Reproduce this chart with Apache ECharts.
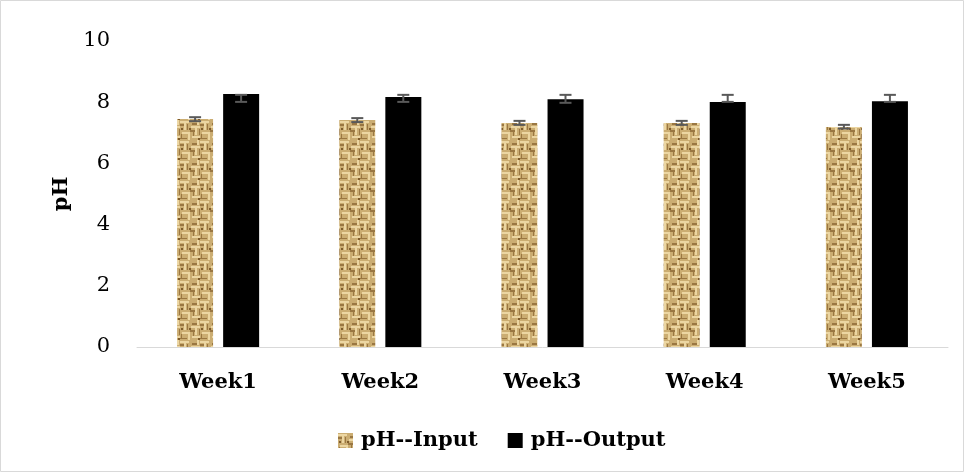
<!DOCTYPE html>
<html><head><meta charset="utf-8">
<script src="https://cdn.jsdelivr.net/npm/echarts@6/dist/echarts.min.js"></script>
<style>html,body{margin:0;padding:0;background:#fff}#c{width:965px;height:473px}</style>
</head><body><div id="c"></div>
<script>
var categories = ['Week1','Week2','Week3','Week4','Week5'];
var inputValues = [7.45, 7.42, 7.32, 7.32, 7.19];
var outputValues = [8.27, 8.17, 8.10, 8.01, 8.03];
var inputErrLow = [7.38, 7.35, 7.26, 7.26, 7.14];
var inputErrHigh = [7.51, 7.48, 7.39, 7.39, 7.26];
var outputErrLow = [8.01, 8.01, 7.98, 8.01, 8.01];
var outputErrHigh = [8.24, 8.24, 8.24, 8.24, 8.24];
var yTicks = [0, 2, 4, 6, 8, 10];

function burlap() {
  var c = document.createElement('canvas');
  c.width = 20; c.height = 20;
  var g = c.getContext('2d');
  g.fillStyle = '#cbad72'; g.fillRect(0,0,20,20);
  g.fillStyle = '#ecd6a2';
  g.fillRect(0,1,9,2); g.fillRect(11,6,9,2); g.fillRect(2,12,8,2); g.fillRect(12,16,8,2);
  g.fillRect(4,3,2,7); g.fillRect(15,8,2,7); g.fillRect(8,14,2,6); g.fillRect(17,0,2,5);
  g.fillStyle = '#9a7742';
  g.fillRect(0,4,4,2); g.fillRect(10,10,5,2); g.fillRect(0,18,7,1); g.fillRect(12,3,5,2);
  g.fillRect(7,4,1,6); g.fillRect(13,12,1,4); g.fillRect(1,14,1,4); g.fillRect(19,9,1,6);
  g.fillStyle = '#7f5c2c';
  g.fillRect(9,8,2,2); g.fillRect(18,18,2,2); g.fillRect(1,8,2,2);
  return c;
}
var pat = {image: burlap(), repeat: 'repeat'};

function errSeries(low, high, offset) {
  return {
    type: 'custom', z: 10,
    data: categories.map(function(c, i){ return [i, low[i], high[i]]; }),
    renderItem: function(params, api) {
      var i = api.value(0);
      var p1 = api.coord([i, api.value(1)]);
      var p2 = api.coord([i, api.value(2)]);
      var x = p1[0] + offset, hw = 6;
      var st = {stroke: '#595959', lineWidth: 2};
      return {type: 'group', children: [
        {type: 'line', shape: {x1: x, y1: p1[1], x2: x, y2: p2[1]}, style: st},
        {type: 'line', shape: {x1: x-hw, y1: p1[1], x2: x+hw, y2: p1[1]}, style: st},
        {type: 'line', shape: {x1: x-hw, y1: p2[1], x2: x+hw, y2: p2[1]}, style: st}
      ]};
    }
  };
}

var font = '"DejaVu Serif", "Liberation Serif", serif';
var chart = echarts.init(document.getElementById('c'));
chart.setOption({
  animation: false,
  backgroundColor: '#fff',
  graphic: [{type: 'rect', shape: {x: 0.5, y: 0.5, width: 963, height: 471}, style: {fill: 'none', stroke: '#d9d9d9', lineWidth: 1}}],
  grid: {left: 137, right: 17, top: 41, bottom: 126},
  legend: {
    bottom: 17, left: 333, itemWidth: 15, itemHeight: 15, itemGap: 30,
    data: [{name: 'pH--Input', icon: 'rect'}, {name: 'pH--Output', icon: 'rect'}],
    textStyle: {fontFamily: font, fontWeight: 'bold', fontSize: 21, color: '#000', padding: [0, 0, 0, 3]}
  },
  xAxis: {
    type: 'category', data: categories,
    axisLine: {lineStyle: {color: '#d9d9d9', width: 1}},
    axisTick: {show: false},
    axisLabel: {fontFamily: font, fontWeight: 'bold', fontSize: 21, color: '#000', margin: 25}
  },
  yAxis: {
    type: 'value', min: yTicks[0], max: yTicks[yTicks.length-1], interval: 2,
    name: 'pH', nameLocation: 'middle', nameGap: 62, nameRotate: 90,
    nameTextStyle: {fontFamily: font, fontWeight: 'bold', fontSize: 21, color: '#000'},
    axisLine: {show: false}, axisTick: {show: false}, splitLine: {show: false},
    axisLabel: {fontFamily: font, fontSize: 21, color: '#000', margin: 27}
  },
  series: [
    {name: 'pH--Input', type: 'bar', data: inputValues, barWidth: 36, barGap: '28%',
     itemStyle: {color: pat}},
    {name: 'pH--Output', type: 'bar', data: outputValues, barWidth: 36, barGap: '28%',
     itemStyle: {color: '#000'}},
    errSeries(inputErrLow, inputErrHigh, -23),
    errSeries(outputErrLow, outputErrHigh, 23)
  ]
});
</script></body></html>
